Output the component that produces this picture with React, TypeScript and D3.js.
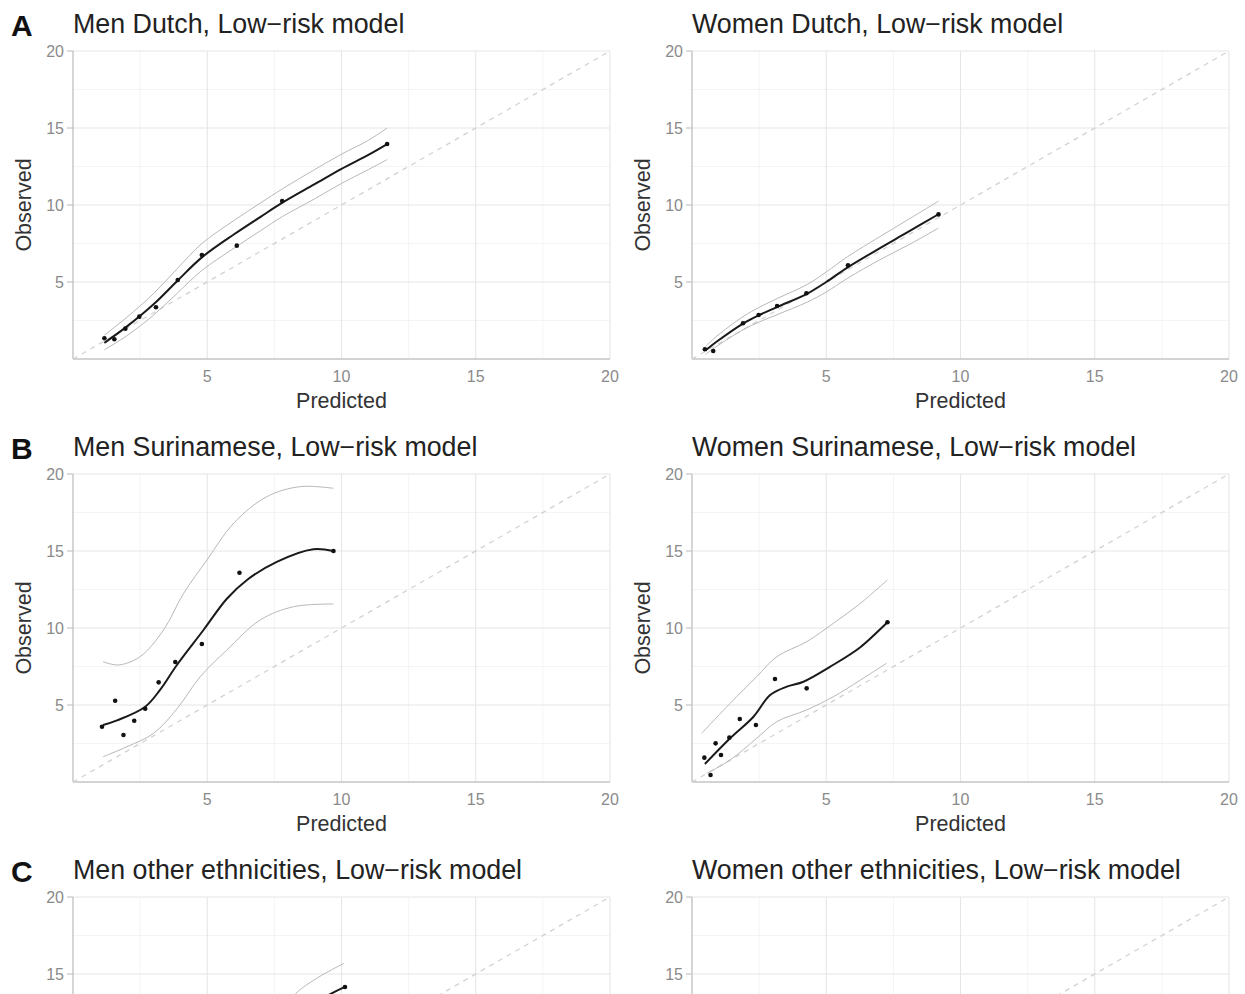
import React from "react";
import * as d3 from "d3";

const majorTicks = [5, 10, 15, 20];
const minorTicks = [2.5, 7.5, 12.5, 17.5];

// A: Men Dutch
const menDutchPred = [1.17, 1.54, 1.95, 2.47, 3.09, 3.9, 4.8, 6.1, 7.79, 11.7];
const menDutchObs = [1.35, 1.28, 1.97, 2.75, 3.36, 5.13, 6.75, 7.36, 10.26, 13.96];
const menDutchFitX = [1.17, 2, 3, 3.9, 4.8, 6, 7, 7.8, 9, 10, 11, 11.7];
const menDutchFit = [1.05, 2.1, 3.55, 5.1, 6.6, 8.1, 9.25, 10.15, 11.35, 12.35, 13.25, 13.95];
const menDutchLo = [0.6, 1.5, 2.85, 4.3, 5.75, 7.2, 8.35, 9.25, 10.4, 11.4, 12.3, 12.95];
const menDutchHi = [1.55, 2.7, 4.25, 5.9, 7.5, 9.0, 10.15, 11.05, 12.3, 13.3, 14.2, 15.0];

// A: Women Dutch
const womenDutchPred = [0.48, 0.79, 1.9, 2.48, 3.17, 4.26, 5.81, 9.18];
const womenDutchObs = [0.63, 0.52, 2.32, 2.86, 3.44, 4.27, 6.08, 9.39];
const womenDutchFitX = [0.5, 0.9, 1.9, 2.5, 3.2, 4.3, 5, 5.8, 7, 8, 9.18];
const womenDutchFit = [0.55, 1.1, 2.3, 2.85, 3.4, 4.25, 5.0, 5.95, 7.2, 8.2, 9.4];
const womenDutchLo = [0.3, 0.8, 1.9, 2.4, 2.9, 3.7, 4.35, 5.25, 6.45, 7.35, 8.5];
const womenDutchHi = [0.8, 1.45, 2.75, 3.35, 3.95, 4.85, 5.65, 6.65, 7.95, 9.0, 10.25];

// B: Men Surinamese
const menSurPred = [1.08, 1.57, 1.88, 2.28, 2.69, 3.19, 3.81, 4.8, 6.2, 9.7];
const menSurObs = [3.59, 5.28, 3.05, 3.98, 4.76, 6.47, 7.79, 8.96, 13.59, 15.0];
const menSurFitX = [1.12, 1.64, 2.69, 3.25, 3.87, 4.86, 5.73, 6.48, 7.59, 8.95, 9.7];
const menSurFit = [3.7, 4.0, 4.89, 6.0, 7.6, 9.87, 11.9, 13.12, 14.3, 15.12, 15.0];
const menSurLoX = [1.12, 2.01, 3.0, 3.87, 4.74, 5.73, 6.97, 8.21, 9.7];
const menSurLo = [1.64, 2.29, 3.16, 4.75, 6.84, 8.57, 10.52, 11.38, 11.56];
const menSurHiX = [1.12, 1.7, 2.5, 3.37, 4.12, 4.99, 5.98, 7.22, 8.46, 9.7];
const menSurHi = [7.81, 7.6, 8.14, 9.87, 12.25, 14.42, 16.8, 18.53, 19.18, 19.07];

// B: Women Surinamese
const womenSurPred = [0.46, 0.69, 0.88, 1.08, 1.39, 1.78, 2.38, 3.09, 4.27, 7.28];
const womenSurObs = [1.58, 0.45, 2.51, 1.75, 2.88, 4.09, 3.7, 6.69, 6.08, 10.37];
const womenSurFitX = [0.48, 1.42, 2.29, 2.91, 3.53, 4.15, 5.15, 6.27, 7.28];
const womenSurFit = [1.17, 2.84, 4.24, 5.65, 6.19, 6.51, 7.49, 8.75, 10.37];
const womenSurLoX = [0.55, 1.42, 2.41, 3.16, 4.27, 5.27, 6.27, 7.25];
const womenSurLo = [0.56, 1.43, 2.84, 3.92, 4.68, 5.54, 6.62, 7.71];
const womenSurHiX = [0.36, 1.42, 2.41, 3.16, 4.27, 5.27, 6.27, 7.28];
const womenSurHi = [3.16, 5.11, 6.84, 8.14, 9.11, 10.31, 11.6, 13.12];

// C: Men other ethnicities (only the top is visible)
const menOthPred = [1.2, 2.0, 2.8, 3.6, 4.5, 5.6, 7.0, 10.13];
const menOthObs = [1.5, 2.6, 3.5, 4.8, 5.9, 7.4, 9.5, 14.16];
const menOthFitX = [1.2, 3, 5, 7, 8.5, 10.13];
const menOthFit = [1.3, 3.4, 6.0, 9.0, 12.5, 14.16];
const menOthLo = [0.7, 2.6, 4.9, 7.6, 10.6, 12.6];
const menOthHiX = [1.2, 3, 5, 7, 8.3, 10.1];
const menOthHi = [2.0, 4.3, 7.0, 10.3, 13.74, 15.7];

// C: Women other ethnicities (only the top is visible)
const womenOthPred = [0.5, 0.9, 1.5, 2.2, 3.1, 4.4, 6.8];
const womenOthObs = [0.6, 1.1, 1.4, 2.5, 3.3, 4.9, 7.2];
const womenOthFitX = [0.5, 2, 4, 6.8];
const womenOthFit = [0.6, 2.1, 4.3, 7.2];
const womenOthLo = [0.3, 1.6, 3.5, 5.9];
const womenOthHi = [0.95, 2.6, 5.1, 8.6];

type Panel = {
  letter: string;
  title: string;
  col: number;
  row: number;
  pred: number[];
  obs: number[];
  fitX: number[];
  fit: number[];
  loX: number[];
  lo: number[];
  hiX: number[];
  hi: number[];
};

const panels: Panel[] = [
  { letter: "A", title: "Men Dutch, Low\u2212risk model", col: 0, row: 0, pred: menDutchPred, obs: menDutchObs, fitX: menDutchFitX, fit: menDutchFit, loX: menDutchFitX, lo: menDutchLo, hiX: menDutchFitX, hi: menDutchHi },
  { letter: "", title: "Women Dutch, Low\u2212risk model", col: 1, row: 0, pred: womenDutchPred, obs: womenDutchObs, fitX: womenDutchFitX, fit: womenDutchFit, loX: womenDutchFitX, lo: womenDutchLo, hiX: womenDutchFitX, hi: womenDutchHi },
  { letter: "B", title: "Men Surinamese, Low\u2212risk model", col: 0, row: 1, pred: menSurPred, obs: menSurObs, fitX: menSurFitX, fit: menSurFit, loX: menSurLoX, lo: menSurLo, hiX: menSurHiX, hi: menSurHi },
  { letter: "", title: "Women Surinamese, Low\u2212risk model", col: 1, row: 1, pred: womenSurPred, obs: womenSurObs, fitX: womenSurFitX, fit: womenSurFit, loX: womenSurLoX, lo: womenSurLo, hiX: womenSurHiX, hi: womenSurHi },
  { letter: "C", title: "Men other ethnicities, Low\u2212risk model", col: 0, row: 2, pred: menOthPred, obs: menOthObs, fitX: menOthFitX, fit: menOthFit, loX: menOthFitX, lo: menOthLo, hiX: menOthHiX, hi: menOthHi },
  { letter: "", title: "Women other ethnicities, Low\u2212risk model", col: 1, row: 2, pred: womenOthPred, obs: womenOthObs, fitX: womenOthFitX, fit: womenOthFit, loX: womenOthFitX, lo: womenOthLo, hiX: womenOthFitX, hi: womenOthHi },
];

const W = 1245;
const H = 994;
const font = "'Liberation Sans', Arial, Helvetica, sans-serif";

function CalPanel({ p }: { p: Panel }) {
  const left = 73 + 619 * p.col;
  const right = 610 + 619 * p.col;
  const top = 51 + 423 * p.row;
  const bottom = 359 + 423 * p.row;

  const x = d3.scaleLinear().domain([0, 20]).range([left, right]);
  const y = d3.scaleLinear().domain([0, 20]).range([bottom, top]);

  const line = d3
    .line<[number, number]>()
    .x((d) => x(d[0]))
    .y((d) => y(d[1]))
    .curve(d3.curveCatmullRom.alpha(0.5));

  const fitPath = line(p.fitX.map((v, i) => [v, p.fit[i]]));
  const loPath = line(p.loX.map((v, i) => [v, p.lo[i]]));
  const hiPath = line(p.hiX.map((v, i) => [v, p.hi[i]]));
  const clipId = `clip-${p.col}-${p.row}`;
  // texts that fall below the page edge are not drawn (they are cut off in the figure)
  const showBottomTexts = bottom + 30 < H;

  return (
    <g>
      <defs>
        <clipPath id={clipId}>
          <rect x={left} y={top} width={right - left} height={bottom - top} />
        </clipPath>
      </defs>
      {minorTicks.map((t) => (
        <g key={"m" + t}>
          <line x1={x(t)} x2={x(t)} y1={top} y2={bottom} stroke="#f1f1f1" strokeWidth={0.8} />
          <line x1={left} x2={right} y1={y(t)} y2={y(t)} stroke="#f1f1f1" strokeWidth={0.8} />
        </g>
      ))}
      {majorTicks.map((t) => (
        <g key={"M" + t}>
          <line x1={x(t)} x2={x(t)} y1={top} y2={bottom} stroke="#e6e6e6" strokeWidth={1.1} />
          <line x1={left} x2={right} y1={y(t)} y2={y(t)} stroke="#e6e6e6" strokeWidth={1.1} />
        </g>
      ))}
      <line x1={left} x2={right} y1={bottom} y2={bottom} stroke="#c4c4c4" strokeWidth={1.4} />
      <line x1={left} x2={left} y1={top} y2={bottom} stroke="#c4c4c4" strokeWidth={1.4} />
      {majorTicks.map((t) => (
        <line key={"yt" + t} x1={left - 6} x2={left} y1={y(t)} y2={y(t)} stroke="#c4c4c4" strokeWidth={1.2} />
      ))}
      {majorTicks
        .filter((t) => y(t) + 8 < H)
        .map((t) => (
          <text key={"yl" + t} x={left - 9} y={y(t)} dy="0.35em" textAnchor="end" fontSize={16} fill="#8a8a8a" fontFamily={font}>
            {t}
          </text>
        ))}
      {showBottomTexts &&
        majorTicks.map((t) => (
          <text key={"xl" + t} x={x(t)} y={bottom + 23} textAnchor="middle" fontSize={16} fill="#8a8a8a" fontFamily={font}>
            {t}
          </text>
        ))}
      {showBottomTexts && (
        <text x={(left + right) / 2} y={bottom + 49} textAnchor="middle" fontSize={21.5} fill="#333" fontFamily={font}>
          Predicted
        </text>
      )}
      {showBottomTexts && (
        <text
          transform={`translate(${left - 42},${(top + bottom) / 2}) rotate(-90)`}
          textAnchor="middle"
          fontSize={21.5}
          fill="#333"
          fontFamily={font}
        >
          Observed
        </text>
      )}
      <text x={left} y={top - 18} fontSize={26.8} fill="#222" fontFamily={font}>
        {p.title}
      </text>
      {p.letter && (
        <text x={11} y={top - 15} fontSize={30} fontWeight="bold" fill="#111" fontFamily={font}>
          {p.letter}
        </text>
      )}
      <g clipPath={`url(#${clipId})`}>
        <line x1={x(0)} y1={y(0)} x2={x(20)} y2={y(20)} stroke="#d2d2d2" strokeWidth={1.3} strokeDasharray="5,5" />
        <path d={loPath || ""} fill="none" stroke="#b8b8b8" strokeWidth={1} />
        <path d={hiPath || ""} fill="none" stroke="#b8b8b8" strokeWidth={1} />
        <path d={fitPath || ""} fill="none" stroke="#1a1a1a" strokeWidth={2} />
        {p.pred.map((v, i) => (
          <circle key={i} cx={x(v)} cy={y(p.obs[i])} r={2.3} fill="#111" />
        ))}
      </g>
    </g>
  );
}

export default function App() {
  return (
    <svg
      width={W}
      height={H}
      viewBox={`0 0 ${W} ${H}`}
      style={{ position: "absolute", left: 0, top: 0, background: "#fff" }}
    >
      <rect width={W} height={H} fill="#fff" />
      {panels.map((p) => (
        <CalPanel key={p.col + "-" + p.row} p={p} />
      ))}
    </svg>
  );
}
